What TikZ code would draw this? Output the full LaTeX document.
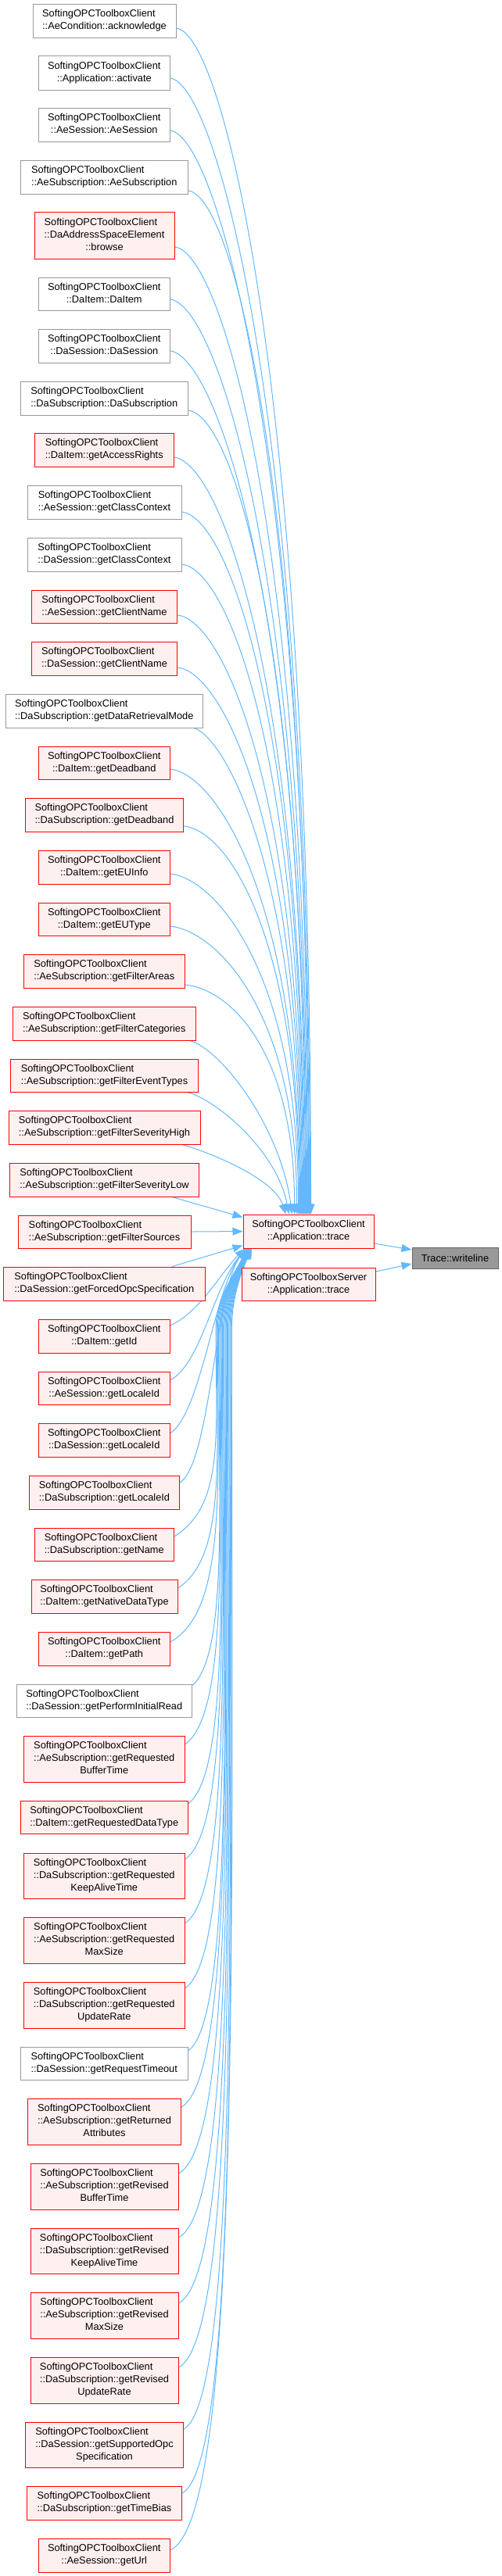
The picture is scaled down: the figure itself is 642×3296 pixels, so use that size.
\documentclass[tikz,border=0pt]{standalone}
\usepackage{fontspec}
\setmainfont{Liberation Sans}
\usetikzlibrary{arrows.meta}
\pgfdeclarelayer{edges}
\pgfsetlayers{edges,main}
\definecolor{eBlue}{HTML}{63B8FF}
\definecolor{bRed}{HTML}{FF0000}
\definecolor{fPink}{HTML}{FFF0F0}
\definecolor{bGray}{HTML}{999999}
\definecolor{cFill}{HTML}{999999}
\definecolor{cBorder}{HTML}{666666}
\newcommand{\lbl}[2]{\begin{tabular}{@{}l@{}}#1\\\multicolumn{1}{@{}c@{}}{#2}\end{tabular}}
\newcommand{\lblc}[1]{\lbl{SoftingOPCToolboxClient}{#1}}
\newcommand{\lbltri}[2]{\begin{tabular}{@{}l@{}}SoftingOPCToolboxClient\\#1\\\multicolumn{1}{@{}c@{}}{#2}\end{tabular}}
\newcommand{\bx}[7]{\node[#2, minimum width={(#4-#3)*1pt}, minimum height={(#6-#5)*1pt}] (#1) at ({(#3+#4)/2},{(#5+#6)/2}) {#7};}
\tikzset{
  box/.style={draw, line width=1pt, inner xsep=4pt, inner ysep=0pt, font=\fontsize{12.8}{16}\selectfont},
  rbox/.style={box, draw=bRed, fill=fPink},
  gbox/.style={box, draw=bGray, fill=white},
  wbox/.style={box, draw=cBorder, fill=cFill},
  edge/.style={draw=eBlue, line width=1pt, -{Triangle[length=13pt,width=10pt]}}
}
\begin{document}
\begin{tikzpicture}[x=1pt,y=-1pt]
\useasboundingbox (0,0) rectangle (642,3296);
\bx{n1}{gbox}{42}{225}{5}{48}{\lblc{::AeCondition::acknowledge}}
\bx{n2}{gbox}{49.5}{217}{71}{115}{\lblc{::Application::activate}}
\bx{n3}{gbox}{49.5}{217}{138}{181}{\lblc{::AeSession::AeSession}}
\bx{n4}{gbox}{26.5}{240}{205}{248}{\lblc{::AeSubscription::AeSubscription}}
\bx{n5}{rbox}{44}{223}{271}{331}{\lbltri{::DaAddressSpaceElement}{::browse}}
\bx{n6}{gbox}{49.5}{217}{355}{397}{\lblc{::DaItem::DaItem}}
\bx{n7}{gbox}{49.5}{217}{421}{464}{\lblc{::DaSession::DaSession}}
\bx{n8}{gbox}{26.5}{240}{488}{531}{\lblc{::DaSubscription::DaSubscription}}
\bx{n9}{rbox}{44.5}{222}{554}{597}{\lblc{::DaItem::getAccessRights}}
\bx{n10}{gbox}{35}{232}{621}{664}{\lblc{::AeSession::getClassContext}}
\bx{n11}{gbox}{35}{232}{688}{731}{\lblc{::DaSession::getClassContext}}
\bx{n12}{rbox}{40.5}{226.5}{755}{797}{\lblc{::AeSession::getClientName}}
\bx{n13}{rbox}{40.5}{226.5}{821}{864}{\lblc{::DaSession::getClientName}}
\bx{n14}{gbox}{7.5}{259}{888}{931}{\lblc{::DaSubscription::getDataRetrievalMode}}
\bx{n15}{rbox}{49.5}{217}{955}{997}{\lblc{::DaItem::getDeadband}}
\bx{n16}{rbox}{32.5}{234.5}{1021}{1064}{\lblc{::DaSubscription::getDeadband}}
\bx{n17}{rbox}{49.5}{217}{1088}{1131}{\lblc{::DaItem::getEUInfo}}
\bx{n18}{rbox}{49.5}{217}{1155}{1197}{\lblc{::DaItem::getEUType}}
\bx{n19}{rbox}{30}{236.5}{1221}{1264}{\lblc{::AeSubscription::getFilterAreas}}
\bx{n20}{rbox}{16}{250.5}{1288}{1331}{\lblc{::AeSubscription::getFilterCategories}}
\bx{n21}{rbox}{13.5}{253.5}{1355}{1397}{\lblc{::AeSubscription::getFilterEventTypes}}
\bx{n22}{rbox}{11}{256}{1421}{1464}{\lblc{::AeSubscription::getFilterSeverityHigh}}
\bx{n23}{rbox}{12.5}{254.5}{1488}{1531}{\lblc{::AeSubscription::getFilterSeverityLow}}
\bx{n24}{rbox}{23}{244}{1555}{1597}{\lblc{::AeSubscription::getFilterSources}}
\bx{n25}{rbox}{4.5}{262}{1621}{1664}{\lblc{::DaSession::getForcedOpcSpecification}}
\bx{n26}{rbox}{49.5}{217}{1688}{1731}{\lblc{::DaItem::getId}}
\bx{n27}{rbox}{49.5}{217}{1755}{1797}{\lblc{::AeSession::getLocaleId}}
\bx{n28}{rbox}{49.5}{217}{1821}{1864}{\lblc{::DaSession::getLocaleId}}
\bx{n29}{rbox}{37.5}{229.5}{1888}{1931}{\lblc{::DaSubscription::getLocaleId}}
\bx{n30}{rbox}{44.5}{222}{1955}{1997}{\lblc{::DaSubscription::getName}}
\bx{n31}{rbox}{40}{227}{2021}{2064}{\lblc{::DaItem::getNativeDataType}}
\bx{n32}{rbox}{49.5}{217}{2088}{2131}{\lblc{::DaItem::getPath}}
\bx{n33}{gbox}{21.5}{245}{2155}{2197}{\lblc{::DaSession::getPerformInitialRead}}
\bx{n34}{rbox}{30.5}{236}{2221}{2280}{\lbltri{::AeSubscription::getRequested}{BufferTime}}
\bx{n35}{rbox}{26.5}{240}{2304}{2346}{\lblc{::DaItem::getRequestedDataType}}
\bx{n36}{rbox}{30.5}{236}{2371}{2429}{\lbltri{::DaSubscription::getRequested}{KeepAliveTime}}
\bx{n37}{rbox}{30.5}{236}{2453}{2512}{\lbltri{::AeSubscription::getRequested}{MaxSize}}
\bx{n38}{rbox}{30.5}{236}{2536}{2595}{\lbltri{::DaSubscription::getRequested}{UpdateRate}}
\bx{n39}{gbox}{26.5}{240}{2619}{2661}{\lblc{::DaSession::getRequestTimeout}}
\bx{n40}{rbox}{35.5}{231.5}{2685}{2744}{\lbltri{::AeSubscription::getReturned}{Attributes}}
\bx{n41}{rbox}{39}{228}{2768}{2827}{\lbltri{::AeSubscription::getRevised}{BufferTime}}
\bx{n42}{rbox}{39}{228}{2851}{2909}{\lbltri{::DaSubscription::getRevised}{KeepAliveTime}}
\bx{n43}{rbox}{39}{228}{2933}{2992}{\lbltri{::AeSubscription::getRevised}{MaxSize}}
\bx{n44}{rbox}{39}{228}{3016}{3075}{\lbltri{::DaSubscription::getRevised}{UpdateRate}}
\bx{n45}{rbox}{32.5}{234.5}{3099}{3157}{\lbltri{::DaSession::getSupportedOpc}{Specification}}
\bx{n46}{rbox}{34.5}{232.5}{3181}{3224}{\lblc{::DaSubscription::getTimeBias}}
\bx{n47}{rbox}{49.5}{217}{3248}{3291}{\lblc{::AeSession::getUrl}}
\bx{T}{rbox}{311}{478}{1554}{1597}{\lblc{::Application::trace}}
\bx{S}{rbox}{309}{480}{1622}{1664}{\lbl{SoftingOPCToolboxServer}{::Application::trace}}
\bx{W}{wbox}{527}{637}{1596}{1623}{Trace::writeline}
\begin{pgfonlayer}{edges}
% top group, right-side starts
\foreach \n/\d/\ex/\ax/\ay/\bx/\by in {
 1/9.5/87/285/42/398/491, 2/7/86/277/106/397/536, 3/7.5/85/277/173/396/583,
 4/17.5/84/300/250/395/637, 5/15/83/283/322/394/687, 6/7/82/277/389/393/734,
 7/6.5/81/277/455/392/781, 8/15.5/80/300/531/391/834, 9/9.5/79/282/591/390/876,
 10/12.5/78/292/661/389/925, 11/12.5/77/292/728/388/972, 12/11/76/286/793/387/1017,
 13/11.5/75/286/860/386/1064, 15/8/73/277/990/384/1155, 16/14.5/72/294/1063/383/1206,
 17/8.5/71/277/1124/382/1249, 18/9/69/277/1191/380/1296, 19/17.5/66/296/1266/377/1348}
 \draw[edge] ([yshift=-\d pt]n\n.east) .. controls (\ax,\ay) and (\bx,\by) .. ([xshift=\ex pt]T.north west);
% top group, bottom-side starts
\foreach \n/\d/\ex/\ax/\ay/\bx/\by in {
 14/114.75/74/288/943/385/1118, 20/109.75/63/283/1343/359/1442,
 21/106.5/59/280/1409/355/1475, 22/99.5/55/273/1476/351/1509}
 \draw[edge] ([xshift=\d pt]n\n.south) .. controls (\ax,\ay) and (\bx,\by) .. ([xshift=\ex pt]T.north west);
% near-horizontal ones
\draw[edge] ([xshift=86.5pt]n23.south) -- ([yshift=-4pt]T.north west);
\draw[edge] (n24.east) -- (T.west);
\draw[edge] ([xshift=86.75pt]n25.north) -- ([yshift=4pt]T.south west);
% bottom group, short ones
\foreach \n/\d/\ex/\ax/\ay/\bx/\by in {
 26/13.5/3/255/1680/285/1625, 27/10/3.4/257/1745/272/1650,
 28/8.5/3.8/257/1809/274/1650, 29/12.5/4.2/269.5/1872/275/1650}
 \draw[edge] ([yshift=\d pt]n\n.east) .. controls (\ax,\ay) and (\bx,\by) .. ([xshift=\ex pt]T.south west);
% bottom group, long ones
\foreach \n/\d/\sy/\vx/\ex in {
 30/10/1966/276/4.6, 31/10.5/2032/277.2/5.0, 32/8.5/2101/278.4/5.4,
 33/19/2157/279.6/5.8, 34/18.5/2232/280.8/6.2, 35/17/2308/282/6.6,
 36/21/2379/283.2/7.0, 37/21.5/2461/284.4/7.4, 38/21.5/2544/285.6/7.8,
 39/16/2624/286.8/8.2, 40/18.5/2696/288/8.6, 41/16.5/2781/289.2/9.0,
 42/17/2863/290.4/9.4, 43/15.5/2947/291.6/9.8, 44/16.5/3029/292.8/10.2,
 45/20/3108/294/10.6, 46/12.5/3190/295.2/11.0, 47/6.5/3263/296.4/11.4}
 \draw[edge] ([yshift=\d pt]n\n.east) .. controls ({\vx+12},{\sy-40}) and (\vx,{(\sy+1700)/2}) .. (\vx,1700)
   .. controls (\vx,1660) and ({297+\ex},1628) .. ([xshift=\ex pt]T.south west);
% to writeline
\draw[edge] ([yshift=-15.5pt]T.east) -- ([yshift=10.5pt]W.west);
\draw[edge] ([yshift=16pt]S.east) -- ([yshift=-7.5pt]W.west);
\end{pgfonlayer}
\end{tikzpicture}
\end{document}
